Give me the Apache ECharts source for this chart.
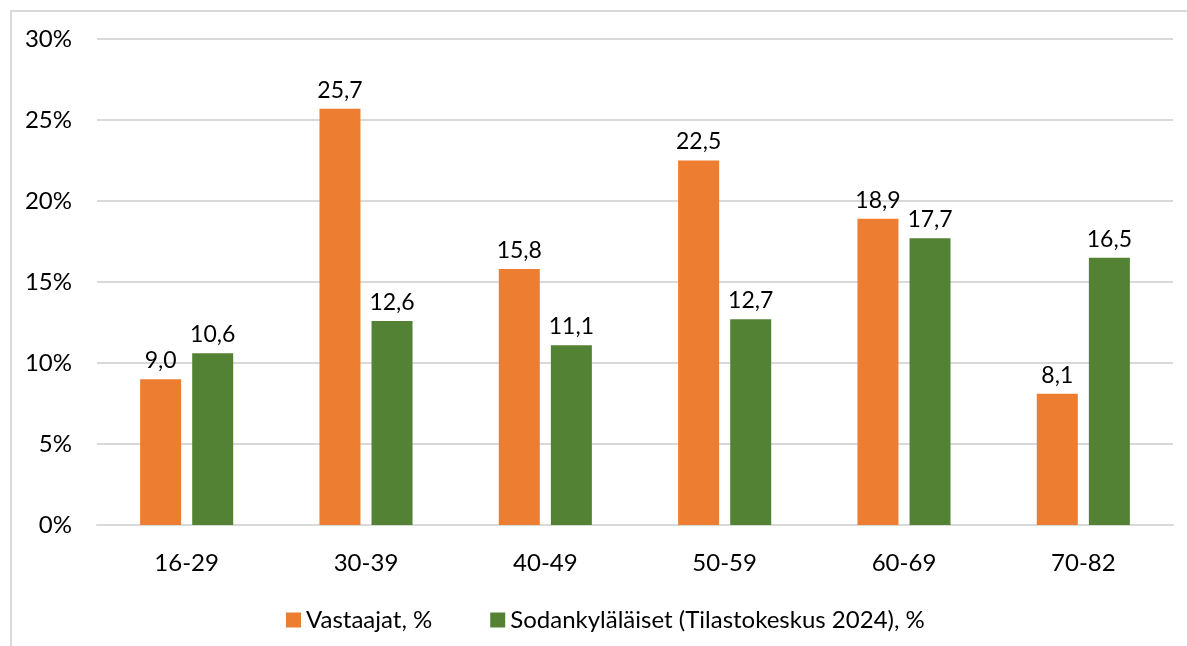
<!DOCTYPE html>
<html><head><meta charset="utf-8">
<script src="https://cdn.jsdelivr.net/npm/echarts@6/dist/echarts.min.js"></script>
<style>html,body{margin:0;padding:0;background:#fff}#c{width:1187px;height:646px}</style>
</head><body><div id="c"></div>
<script>
const categories = ['16-29','30-39','40-49','50-59','60-69','70-82'];
const vastaajat = [9.0, 25.7, 15.8, 22.5, 18.9, 8.1];
const sodankylalaiset = [10.6, 12.6, 11.1, 12.7, 17.7, 16.5];
const seriesNames = ['Vastaajat, %', 'Sodankyläläiset (Tilastokeskus 2024), %'];
const FONT = 'Lato, "Open Sans", sans-serif';
const chart = echarts.init(document.getElementById('c'));
const lbl = {show:true, position:'top', distance:7, color:'#000', fontFamily:FONT, fontSize:23,
  formatter: p => p.value.toFixed(1).replace('.', ',')};
chart.setOption({
  animation:false,
  textStyle:{fontFamily:FONT},
  graphic:[{type:'rect', shape:{x:11, y:11, width:1300, height:700}, style:{fill:'none', stroke:'#d9d9d9', lineWidth:2}, z:-1}],
  grid:{left:97, right:14, top:39, bottom:121, containLabel:false},
  legend:{top:603, left:281, itemWidth:15, itemHeight:15, itemGap:58, icon:'rect',
    textStyle:{fontFamily:FONT, fontSize:24, color:'#000'}},
  xAxis:{type:'category', data:categories, axisTick:{show:false},
    axisLine:{lineStyle:{color:'#d9d9d9', width:2}},
    axisLabel:{color:'#000', fontSize:24, fontFamily:FONT, margin:26}},
  yAxis:{type:'value', min:0, max:30, interval:5, axisLine:{show:false}, axisTick:{show:false},
    splitLine:{lineStyle:{color:'#d9d9d9', width:2}},
    axisLabel:{color:'#000', fontSize:24, fontFamily:FONT, margin:25, formatter:v=>v+'%'}},
  series:[
    {name:seriesNames[0], type:'bar', data:vastaajat, itemStyle:{color:'#ED7D31'}, barWidth:41, barGap:'27%', label:lbl},
    {name:seriesNames[1], type:'bar', data:sodankylalaiset, itemStyle:{color:'#548235'}, barWidth:41, label:lbl}
  ]
});
</script></body></html>
